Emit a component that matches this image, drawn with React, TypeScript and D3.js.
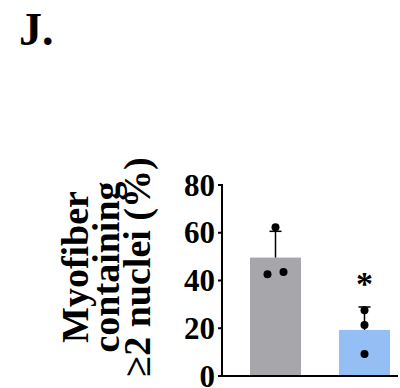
import * as d3 from 'd3';

// values
const groups = ['Control', 'Treated'];
const means = [49.6, 19.3];
const sds = [11.0, 9.6];
const points = [
  [62.3, 42.6, 43.6],
  [27.5, 21.4, 9.2],
];
const yTicks = [0, 20, 40, 60, 80];
const titleLines = ['Myofiber', 'containing', '≥2 nuclei (%)'];
const barColors = ['#a7a6ab', '#93bff5'];
const stars = ['', '*'];

const W = 400;
const H = 388;
const txt = { fontFamily: "'Liberation Serif'", fontWeight: 'bold' as const };

const axisX = 222;
const axisEnd = 398;
const x = d3.scaleBand().domain(groups).range([250, 390]).paddingInner(0.427).paddingOuter(0);
const y = d3.scaleLinear().domain([0, 80]).range([376, 185]);

// dots that sit close together get nudged sideways
const spread = (vals: number[]) =>
  vals.map((v, i) => {
    const near = vals.filter((o, j) => j !== i && Math.abs(o - v) < 4);
    if (!near.length) return 0;
    return v < near[0] ? -8 : 8;
  });

const App = () => {
  return (
    <svg width={W} height={H} style={{ position: 'absolute', left: 0, top: 0, background: '#fff' }}>
      <text x={19} y={45} fontSize={46} style={txt}>
        J.
      </text>

      {groups.map((grp, i) => {
        const cx = x(grp)! + x.bandwidth() / 2;
        const offs = spread(points[i]);
        const top = y(means[i] + sds[i]);
        return (
          <g key={grp}>
            <rect
              x={x(grp)}
              y={y(means[i])}
              width={x.bandwidth()}
              height={y(0) - y(means[i])}
              fill={barColors[i]}
            />
            <line x1={cx} x2={cx} y1={y(means[i])} y2={top} stroke="#000" strokeWidth={1.5} />
            <line x1={cx - 6} x2={cx + 6} y1={top} y2={top} stroke="#000" strokeWidth={1.5} />
            {points[i].map((v, k) => (
              <circle key={k} cx={cx + offs[k]} cy={y(v)} r={4} fill="#000" />
            ))}
            {stars[i] && (
              <text x={cx} y={top - 12} textAnchor="middle" fontSize={34} style={txt}>
                {stars[i]}
              </text>
            )}
          </g>
        );
      })}

      <line x1={axisX} x2={axisX} y1={y(80) - 1} y2={y(0)} stroke="#000" strokeWidth={2} />
      <line x1={axisX - 1} x2={axisEnd} y1={y(0)} y2={y(0)} stroke="#000" strokeWidth={2} />

      {yTicks.map((t) => (
        <g key={t}>
          <line x1={axisX - 4} x2={axisX} y1={y(t)} y2={y(t)} stroke="#000" strokeWidth={2} />
          <text x={axisX - 7} y={y(t)} dy="0.34em" textAnchor="end" fontSize={31} style={txt}>
            {t}
          </text>
        </g>
      ))}

      <text transform="translate(0,267) rotate(-90)" textAnchor="middle" fontSize={38} style={txt}>
        {titleLines.map((t, i) => (
          <tspan key={t} x={0} y={88 + i * 31}>
            {t}
          </tspan>
        ))}
      </text>
    </svg>
  );
};

export default App;
